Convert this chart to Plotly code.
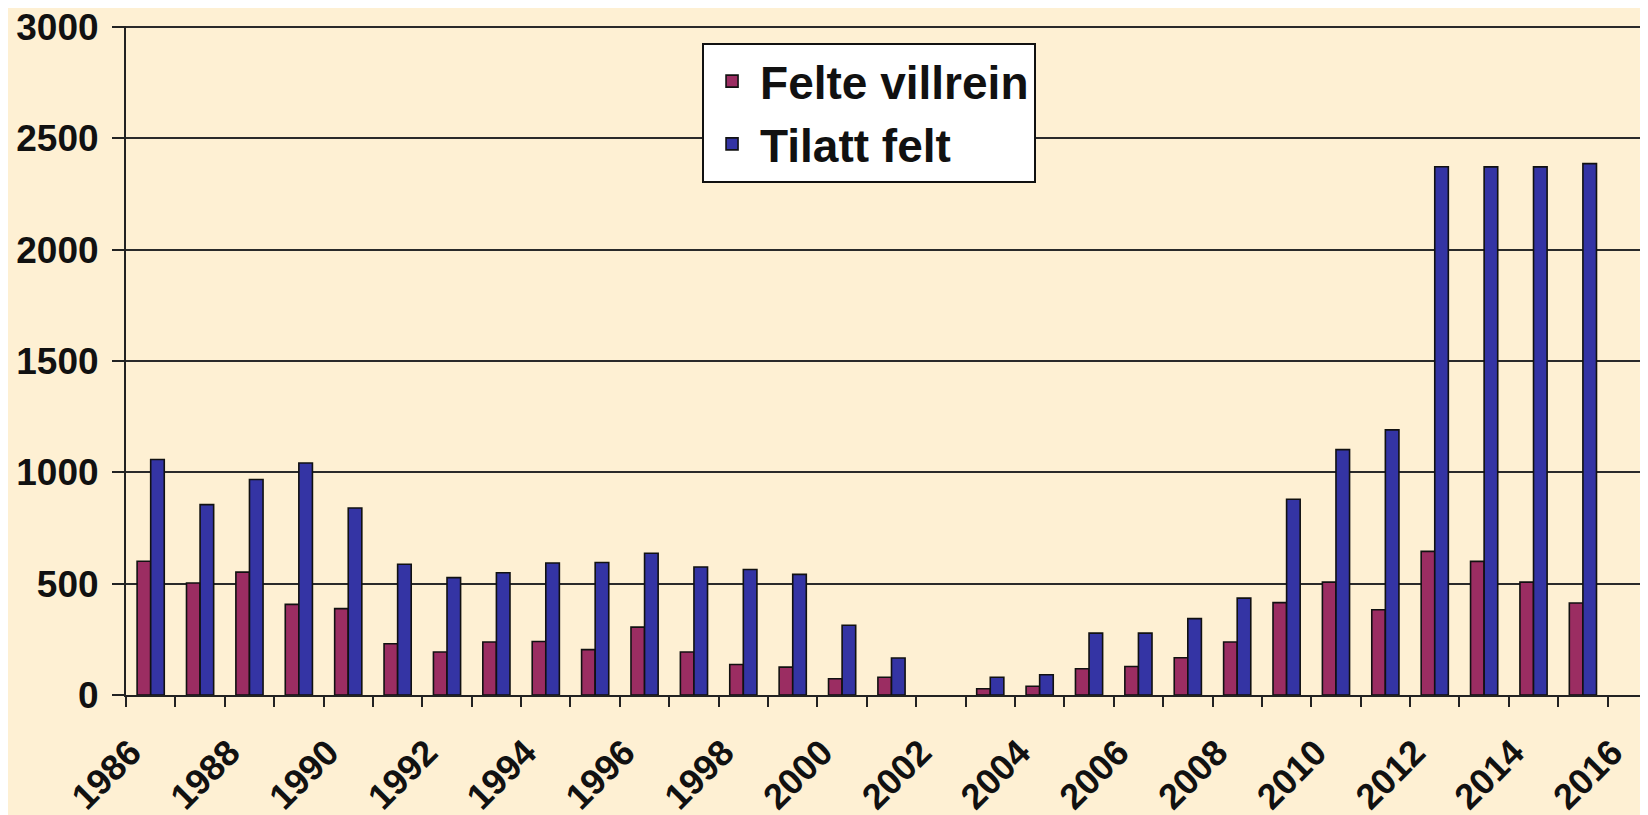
import plotly.graph_objects as go

years = list(range(1986, 2017))
felte_villrein = [601, 503, 552, 407, 388, 230, 193, 238, 240, 204, 305, 193, 137, 125, 73, 80,
                  None, 28, 39, 118, 128, 167, 238, 415, 507, 383, 645, 600, 507, 413, None]
tilatt_felt = [1058, 855, 968, 1042, 840, 587, 527, 549, 593, 595, 637, 575, 564, 542, 313, 166,
               None, 80, 91, 278, 278, 343, 435, 879, 1102, 1191, 2373, 2372, 2372, 2387, None]
label_years = list(range(1986, 2017, 2))
y_ticks = [0, 500, 1000, 1500, 2000, 2500, 3000]

BG = "#FEF0D3"
FONT = dict(family="Liberation Sans, Arial, sans-serif", color="#111111", weight="bold")

fig = go.Figure()
fig.add_trace(go.Bar(name="Felte villrein", x=years, y=felte_villrein, legendgroup="a",
                     marker=dict(color="#9B2D62", line=dict(color="#111111", width=1.6))))
fig.add_trace(go.Bar(name="Tilatt felt", x=years, y=tilatt_felt, legendgroup="b",
                     marker=dict(color="#3434A4", line=dict(color="#111111", width=1.6))))

fig.update_layout(
    width=1648, height=815,
    paper_bgcolor=BG, plot_bgcolor=BG,
    margin=dict(l=118, r=0, t=18, b=128),
    barmode="group", bargap=0.45, bargroupgap=0,
    font=dict(**FONT, size=34),
    legend=dict(x=0.3765, y=0.975, xanchor="left", yanchor="top",
                bgcolor="white", bordercolor="#111111", borderwidth=2,
                traceorder="grouped", tracegroupgap=0, itemwidth=46,
                font=dict(**FONT, size=46)),
    xaxis=dict(range=[1985.5, 2016.48], tickmode="array", tickvals=label_years,
               ticktext=[str(y) for y in label_years], tickangle=-45, ticks="",
               showline=True, linecolor="#222222", linewidth=2, showgrid=False,
               ticklabelshift=-20, ticklabelstandoff=20, automargin=False,
               minor=dict(tickmode="linear", tick0=1985.5, dtick=1, ticks="outside",
                          ticklen=10, tickwidth=2, tickcolor="#222222", showgrid=False),
               tickfont=dict(**FONT, size=36)),
    yaxis=dict(range=[0, 3005], tickmode="array", tickvals=y_ticks,
               ticktext=[str(v) for v in y_ticks],
               showgrid=True, gridcolor="#2a2a2a", gridwidth=1.5,
               showline=True, linecolor="#222222", linewidth=2,
               ticks="outside", ticklen=12, tickwidth=1.5, tickcolor="#222222",
               ticklabelstandoff=6, ticklabeloverflow="allow",
               zeroline=False, automargin=False, tickfont=dict(**FONT, size=37)),
)

fig.write_html("out.html")
